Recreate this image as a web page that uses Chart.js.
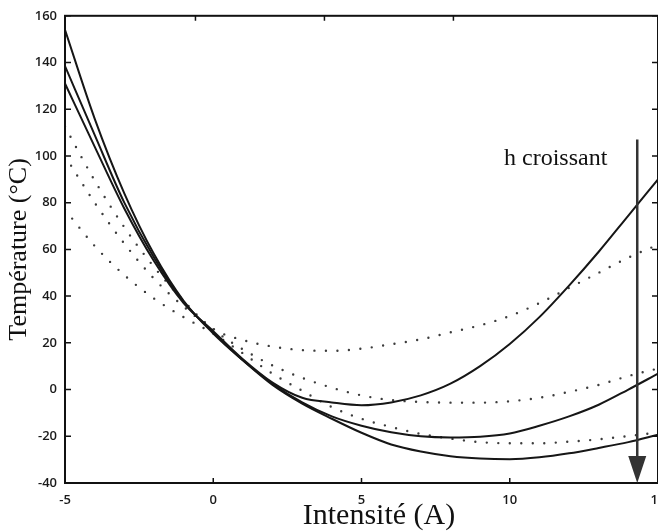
<!DOCTYPE html>
<html lang="fr">
<head>
<meta charset="UTF-8">
<title>Température vs Intensité</title>
<script src="https://cdn.jsdelivr.net/npm/chart.js"></script>
<style>
    html, body { margin: 0; padding: 0; background: #fff; overflow: hidden; }
    #wrap { width: 700px; height: 532px; }
</style>
</head>
<body>
<div id="wrap"><canvas id="tempChart" width="700" height="532"></canvas></div>
<script>
// intensité (A)
var intensite = [-5, -4, -3, -2, -1, 0, 1, 2, 3, 4, 5, 6, 7, 8, 9, 10, 11, 12, 13, 14, 15];

// courbes pleines
var pleineA = [131, 104, 77.5, 55, 37, 25, 13, 3, -3.5, -5.5, -6.7, -5.5, -2.5, 2.5, 10, 19.5, 31, 44.5, 59, 74.5, 90];
var pleineB = [138.5, 109, 80, 56.5, 37.5, 24.5, 12.5, 2.5, -5.5, -11.5, -15.5, -18.3, -20, -20.5, -20.2, -18.8, -15.5, -11.5, -6.5, 0, 6.8];
var pleineC = [154, 116, 84, 58, 38, 24, 12.5, 2, -6, -12.5, -18.5, -23.5, -26.5, -28.5, -29.5, -29.8, -29, -27.3, -25, -22.5, -19.3];

// courbes en pointillés
var pointilles1 = [112.5, 89.5, 69.5, 52.5, 38, 26, 21.2, 18.4, 16.9, 16.6, 17.5, 19.4, 21.5, 24.5, 27.5, 31.5, 37, 43.5, 50, 56.5, 62];
var pointilles2 = [100, 80, 62.5, 47.5, 35.5, 25.5, 17.2, 10.3, 5, 0.8, -2.5, -4.5, -5.3, -5.6, -5.6, -5, -3.5, -1, 2, 5.8, 9];
var pointilles3 = [77, 61.5, 49, 39, 31, 24, 15.5, 6.8, -0.5, -7.5, -12.5, -16, -19, -21, -22.5, -23, -23, -22.3, -21.3, -19.9, -18.4];

var xTicks = [-5, 0, 5, 10, 15];
var yTicks = [-40, -20, 0, 20, 40, 60, 80, 100, 120, 140, 160];
var topTicks = [-0.6, 3.75, 8.1];

// fleche "h croissant"
var flecheX = 14.3;
var flecheHaut = 107;
var flecheBas = -40;
var texteX = 11.55;
var texteY = 99;

function toPoints(ys) {
    return intensite.map(function (x, i) { return { x: x, y: ys[i] }; });
}

function solid(ys) {
    return {
        data: toPoints(ys),
        borderColor: '#161616',
        borderWidth: 2,
        pointRadius: 0,
        fill: false,
        cubicInterpolationMode: 'monotone'
    };
}

function dotted(ys) {
    return {
        data: toPoints(ys),
        borderColor: '#3c3c3c',
        borderWidth: 2.4,
        borderDash: [0, 11.5],
        borderCapStyle: 'round',
        pointRadius: 0,
        fill: false,
        cubicInterpolationMode: 'monotone'
    };
}

var cadre = {
    id: 'cadre',
    afterDatasetsDraw: function (chart) {
        var ctx = chart.ctx;
        var a = chart.chartArea;
        var xs = chart.scales.x;
        var ys = chart.scales.y;
        ctx.save();
        ctx.strokeStyle = '#111';
        ctx.lineWidth = 2;
        ctx.strokeRect(a.left, a.top, a.right - a.left, a.bottom - a.top);

        // petites graduations vers l'interieur
        ctx.lineWidth = 1.5;
        ctx.beginPath();
        yTicks.forEach(function (v) {
            var py = ys.getPixelForValue(v);
            ctx.moveTo(a.left, py); ctx.lineTo(a.left + 6, py);
            ctx.moveTo(a.right, py); ctx.lineTo(a.right - 6, py);
        });
        xTicks.forEach(function (v) {
            var px = xs.getPixelForValue(v);
            ctx.moveTo(px, a.bottom); ctx.lineTo(px, a.bottom - 5);
        });
        topTicks.forEach(function (v) {
            var px = xs.getPixelForValue(v);
            ctx.moveTo(px, a.top); ctx.lineTo(px, a.top + 5);
        });
        ctx.stroke();

        // fleche
        var fx = xs.getPixelForValue(flecheX);
        var fy1 = ys.getPixelForValue(flecheHaut);
        var fy2 = ys.getPixelForValue(flecheBas);
        ctx.strokeStyle = '#333';
        ctx.fillStyle = '#333';
        ctx.lineWidth = 2.5;
        ctx.beginPath();
        ctx.moveTo(fx, fy1);
        ctx.lineTo(fx, fy2 - 20);
        ctx.stroke();
        ctx.beginPath();
        ctx.moveTo(fx - 9, fy2 - 27);
        ctx.lineTo(fx + 9, fy2 - 27);
        ctx.lineTo(fx, fy2);
        ctx.closePath();
        ctx.fill();

        // texte
        ctx.fillStyle = '#111';
        ctx.font = '24px "Liberation Serif"';
        ctx.textAlign = 'center';
        ctx.textBaseline = 'middle';
        ctx.fillText('h croissant', xs.getPixelForValue(texteX), ys.getPixelForValue(texteY));

        // titre axe x
        ctx.font = '30px "Liberation Serif"';
        ctx.fillText('Intensité (A)', 379, 516);
        ctx.restore();
    }
};

var ctx = document.getElementById('tempChart').getContext('2d');
new Chart(ctx, {
    type: 'line',
    data: {
        datasets: [
            solid(pleineA), solid(pleineB), solid(pleineC),
            dotted(pointilles1), dotted(pointilles2), dotted(pointilles3)
        ]
    },
    options: {
        responsive: false,
        animation: false,
        layout: { padding: { top: 14, right: 42, left: 0, bottom: 0 } },
        plugins: { legend: { display: false }, tooltip: { enabled: false } },
        scales: {
            x: {
                type: 'linear',
                min: -5,
                max: 15,
                grid: { display: false, drawTicks: false },
                border: { display: false },
                afterBuildTicks: function (scale) {
                    scale.ticks = xTicks.map(function (v) { return { value: v }; });
                },
                afterFit: function (scale) { scale.height = 49; },
                ticks: {
                    padding: 9,
                    maxRotation: 0,
                    autoSkip: false,
                    color: '#1a1a1a',
                    font: { family: 'Open Sans', size: 13, weight: '600' }
                }
            },
            y: {
                min: -40,
                max: 160,
                grid: { display: false, drawTicks: false },
                border: { display: false },
                afterBuildTicks: function (scale) {
                    scale.ticks = yTicks.map(function (v) { return { value: v }; });
                },
                afterFit: function (scale) { scale.width = 65; },
                ticks: {
                    padding: 8,
                    autoSkip: false,
                    color: '#1a1a1a',
                    font: { family: 'Open Sans', size: 13, weight: '600' }
                },
                title: {
                    display: true,
                    text: 'Température (°C)',
                    color: '#111',
                    padding: { top: 4, bottom: 0 },
                    font: { family: 'Liberation Serif', size: 26, weight: 'normal' }
                }
            }
        }
    },
    plugins: [cadre]
});
</script>
</body>
</html>
